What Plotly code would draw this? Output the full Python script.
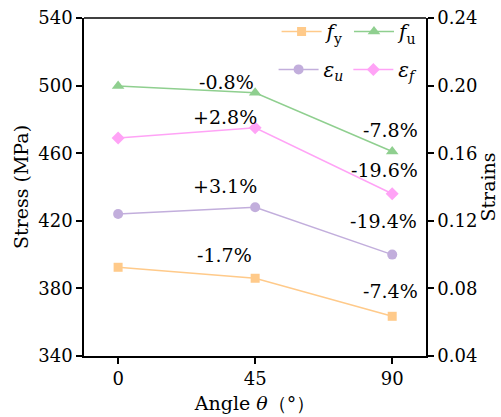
import plotly.graph_objects as go

angles = [0, 45, 90]
fy = [392.5, 386.0, 363.5]
fu = [499.8, 495.8, 461.0]
eps_u = [0.124, 0.128, 0.100]
eps_f = [0.169, 0.175, 0.136]

stress_ticks = [340, 380, 420, 460, 500, 540]
strain_ticks = [0.04, 0.08, 0.12, 0.16, 0.20, 0.24]

labels_text = ["-0.8%", "+2.8%", "+3.1%", "-1.7%", "-7.8%", "-19.6%", "-19.4%", "-7.4%"]
labels_x = [35.5, 35.0, 35.0, 35.0, 89.5, 87.5, 87.0, 89.5]
labels_y = [502.0, 481.5, 440.5, 399.5, 474.0, 450.0, 419.8, 378.5]

FONT = "DejaVu Serif"
c_fy = "#FFCA8A"
c_fu = "#8FCF8F"
c_eu = "#C2AEDC"
c_ef = "#FFA3F6"

fig = go.Figure()
fig.add_trace(go.Scatter(x=angles, y=fy, mode="lines+markers", name="<i>f</i><sub>y</sub>",
                         line=dict(color=c_fy, width=1.5), marker=dict(symbol="square", size=9, color=c_fy),
                         legend="legend"))
fig.add_trace(go.Scatter(x=angles, y=fu, mode="lines+markers", name="<i>f</i><sub>u</sub>",
                         line=dict(color=c_fu, width=1.5), marker=dict(symbol="triangle-up", size=11, color=c_fu),
                         legend="legend"))
fig.add_trace(go.Scatter(x=angles, y=eps_u, mode="lines+markers", name="<i>ε<sub>u</sub></i>",
                         line=dict(color=c_eu, width=1.5), marker=dict(symbol="circle", size=10, color=c_eu),
                         yaxis="y2", legend="legend2"))
fig.add_trace(go.Scatter(x=angles, y=eps_f, mode="lines+markers", name="<i>ε<sub>f</sub></i>",
                         line=dict(color=c_ef, width=1.5), marker=dict(symbol="diamond", size=10, color=c_ef),
                         yaxis="y2", legend="legend2"))

for t, x, y in zip(labels_text, labels_x, labels_y):
    fig.add_annotation(x=x, y=y, xref="x", yref="y", text=t, showarrow=False,
                       font=dict(family=FONT, size=19, color="black"))

axis_common = dict(showgrid=False, zeroline=False, showline=True, linecolor="black", linewidth=1.5,
                   ticks="outside", ticklen=6, tickwidth=1.5, tickcolor="black", automargin=False,
                   tickfont=dict(family=FONT, size=18, color="black"))

fig.update_layout(
    width=501, height=417,
    margin=dict(l=84, r=75, t=18, b=61, autoexpand=False),
    paper_bgcolor="white", plot_bgcolor="white",
    font=dict(family=FONT, color="black"),
    xaxis=dict(range=[-11.2, 101.1], tickvals=angles, ticktext=[str(a) for a in angles],
               title=dict(text="Angle <i>θ</i>（°）", font=dict(family=FONT, size=19), standoff=8),
               **axis_common),
    yaxis=dict(range=[340, 540], tickvals=stress_ticks, ticktext=[str(v) for v in stress_ticks],
               title=dict(text="Stress (MPa)", font=dict(family=FONT, size=19), standoff=5),
               **axis_common),
    yaxis2=dict(range=[0.04, 0.24], tickvals=strain_ticks, ticktext=[f"{v:.2f}" for v in strain_ticks],
                overlaying="y", side="right",
                title=dict(text="Strains", font=dict(family=FONT, size=19), standoff=4),
                **axis_common),
    legend=dict(orientation="h", x=0.99, y=0.96, xanchor="right", yanchor="middle",
                bgcolor="rgba(0,0,0,0)", font=dict(family=FONT, size=20), itemwidth=40,
                tracegroupgap=0),
    legend2=dict(orientation="h", x=0.99, y=0.848, xanchor="right", yanchor="middle",
                 bgcolor="rgba(0,0,0,0)", font=dict(family=FONT, size=20), itemwidth=40,
                 tracegroupgap=0),
    showlegend=True,
)
fig.add_shape(type="line", xref="paper", yref="paper", x0=0, x1=1, y0=1, y1=1,
              line=dict(color="black", width=1.5))

fig.write_html("out.html")
